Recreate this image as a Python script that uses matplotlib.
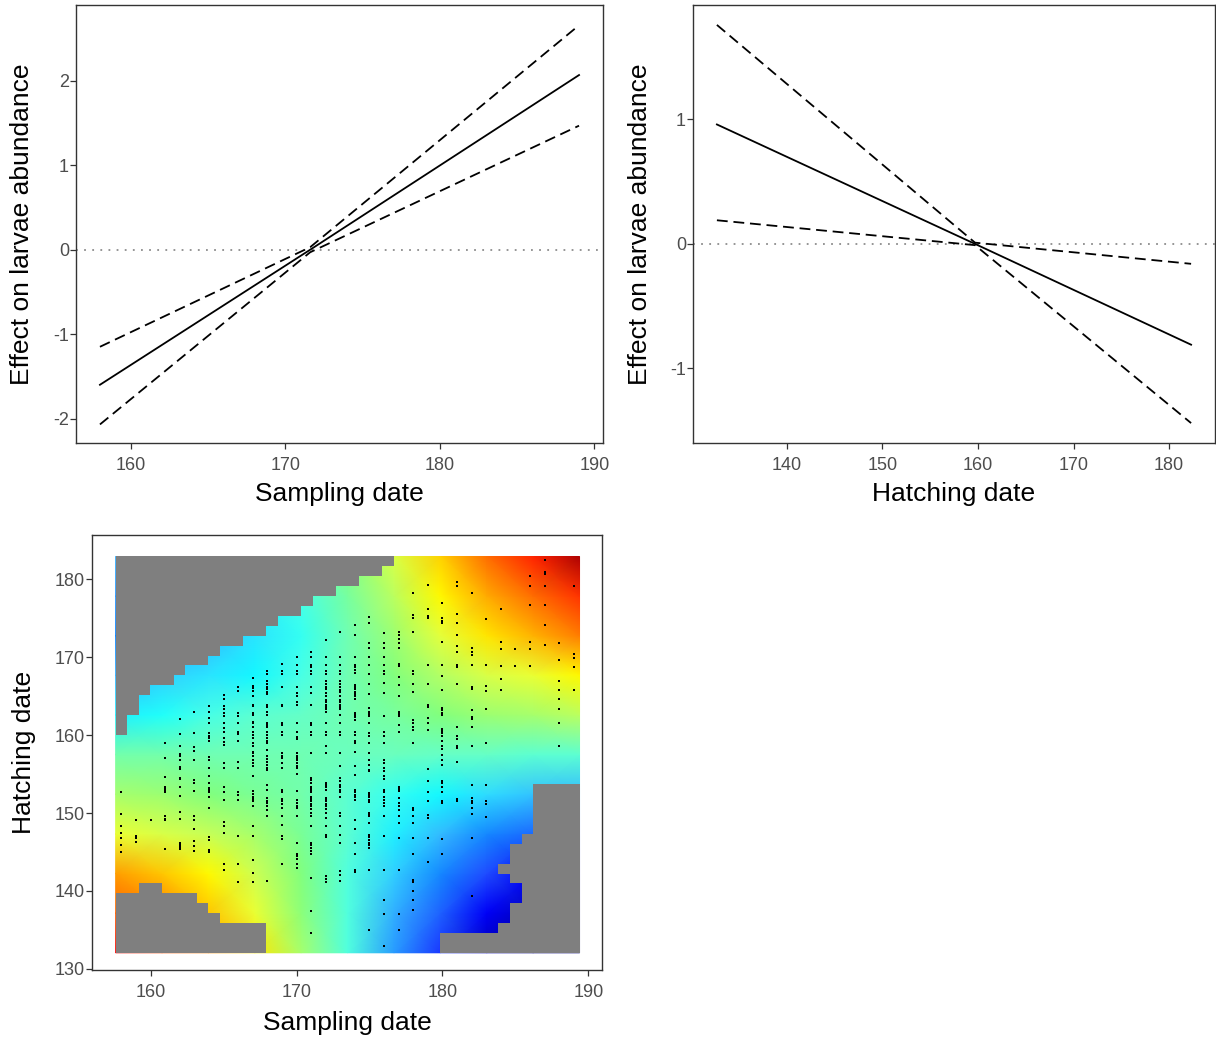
import numpy as np
import matplotlib
matplotlib.use("Agg")
import matplotlib.pyplot as plt
from matplotlib.colors import ListedColormap, to_rgb

plt.rcParams['font.family'] = ['Liberation Sans', 'DejaVu Sans']
plt.rcParams['axes.unicode_minus'] = False

# ---- top-left: effect of sampling date
samp_x = [158, 171.6, 189]
samp_fit = [-1.60, 0.00, 2.07]
samp_upper = [-1.15, 0.03, 2.66]
samp_lower = [-2.07, -0.03, 1.47]

# ---- top-right: effect of hatching date
hatch_x = [132.7, 159.7, 182.3]
hatch_fit = [0.96, 0.00, -0.81]
hatch_upper = [1.76, 0.01, -0.16]
hatch_lower = [0.19, -0.01, -1.44]

# ---- bottom: surface (colour scale position 0..1), rows bottom -> top, cols left -> right
surf_x = [157.6, 160.78, 163.96, 167.14, 170.32, 173.5, 176.68, 179.86, 183.04, 186.22, 189.4]
surf_y = [132.06, 137.15, 142.24, 147.32, 152.41, 157.5, 162.59, 167.68, 172.76, 177.85, 182.94]
surf_z = [
    [0.88, 0.82, 0.74, 0.65, 0.53, 0.41, 0.28, 0.16, 0.06, 0.00, 0.00],
    [0.80, 0.75, 0.68, 0.60, 0.51, 0.41, 0.30, 0.21, 0.12, 0.06, 0.03],
    [0.72, 0.68, 0.63, 0.57, 0.50, 0.41, 0.33, 0.26, 0.18, 0.12, 0.08],
    [0.60, 0.58, 0.56, 0.53, 0.48, 0.42, 0.36, 0.31, 0.26, 0.22, 0.20],
    [0.53, 0.52, 0.50, 0.48, 0.46, 0.42, 0.39, 0.37, 0.34, 0.32, 0.31],
    [0.46, 0.46, 0.45, 0.45, 0.45, 0.44, 0.44, 0.43, 0.43, 0.42, 0.42],
    [0.36, 0.38, 0.40, 0.42, 0.43, 0.45, 0.47, 0.50, 0.52, 0.53, 0.55],
    [0.30, 0.33, 0.35, 0.37, 0.40, 0.45, 0.50, 0.54, 0.58, 0.60, 0.63],
    [0.25, 0.28, 0.31, 0.35, 0.39, 0.45, 0.52, 0.59, 0.65, 0.70, 0.75],
    [0.27, 0.30, 0.33, 0.36, 0.40, 0.47, 0.55, 0.63, 0.71, 0.78, 0.85],
    [0.30, 0.33, 0.36, 0.40, 0.44, 0.50, 0.58, 0.67, 0.78, 0.86, 0.95],
]
palette = ['#00007F', '#0000FF', '#007FFF', '#00FFFF', '#7FFF7F',
           '#FFFF00', '#FF7F00', '#FF0000', '#7F0000']

# grey (too far from data) cells on the 40 x 40 grid
top_grey = [18, 16, 14, 13, 13, 12, 11, 11, 10, 9, 9, 8, 8, 7, 6, 6, 5, 4, 4, 3, 3, 2, 2, 1] + [0] * 16
bottom_grey = [6, 6, 7, 7, 6, 6, 6, 5, 4, 3, 3, 3, 3] + [0] * 27
right_grey_start = [28, 28, 33, 34, 34, 35, 35, 34, 33, 34, 34, 35, 36, 36, 36, 36, 36] + [40] * 23

# observed larvae: hatching dates per sampling day
obs = {
    158: [152.65, 149.9, 148.3, 147.5, 146.8, 145.9, 145.0],
    159: [149.06, 147.1, 146.8, 146.3],
    160: [149.06],
    161: [159.0, 157.05, 154.6, 153.4, 153.2, 152.9, 152.65, 149.6, 149.3, 149.06, 145.4],
    162: [162.1, 160.2, 158.55, 157.6, 157.35, 156.8, 155.9, 155.7, 154.5, 154.4, 153.4, 152.2,
          150.1, 149.2, 146.2, 145.9, 145.6, 145.4],
    163: [163.0, 160.25, 158.5, 158.0, 156.75, 154.2, 153.85, 152.8, 149.6, 149.15, 147.9, 146.4,
          145.75, 145.1],
    164: [163.7, 163.0, 162.2, 161.55, 160.25, 159.9, 159.6, 159.3, 157.2, 156.8, 155.8, 154.8,
          153.85, 153.2, 152.9, 152.65, 152.05, 150.6, 146.9, 146.6, 145.3, 145.0],
    165: [165.2, 164.6, 163.7, 163.35, 162.8, 162.4, 161.55, 160.9, 160.35, 159.6, 159.1, 158.8,
          156.4, 155.8, 153.4, 152.65, 151.7, 148.9, 148.4, 147.4, 143.4, 142.7],
    166: [166.2, 165.7, 162.9, 162.5, 161.55, 160.35, 160.1, 159.3, 156.5, 155.8, 152.65, 152.3,
          151.7, 147.1, 143.4, 141.1],
    167: [167.3, 166.3, 166.0, 165.7, 165.0, 163.9, 163.7, 162.8, 162.6, 161.75, 161.55, 161.1,
          160.35, 160.0, 159.6, 159.0, 158.55, 157.9, 157.7, 157.3, 156.8, 156.4, 156.0, 154.7,
          152.8, 152.4, 152.05, 151.8, 151.5, 150.85, 148.4, 147.1, 144.0, 142.3, 141.1],
    168: [168.2, 167.9, 166.9, 166.6, 166.2, 165.9, 165.6, 165.3, 163.9, 163.6, 163.0, 162.6,
          161.6, 161.3, 161.1, 160.35, 160.0, 159.6, 159.3, 159.0, 158.1, 157.3, 156.9, 156.6,
          156.2, 155.8, 155.5, 153.6, 153.0, 151.9, 151.6, 151.3, 150.85, 150.4, 149.6, 141.3],
    169: [169.2, 168.2, 167.9, 166.2, 163.9, 163.7, 161.55, 161.3, 160.35, 160.0, 157.7, 157.35,
          157.05, 156.4, 155.8, 153.0, 152.65, 151.8, 151.5, 151.1, 150.65, 149.6, 148.5, 147.0,
          146.7, 143.5],
    170: [170.1, 169.0, 168.2, 167.9, 166.2, 165.4, 165.0, 164.3, 163.9, 161.55, 160.35, 159.8,
          159.5, 157.7, 157.35, 157.05, 156.75, 156.4, 156.1, 155.8, 155.0, 152.8, 151.7, 151.3,
          150.9, 150.65, 149.6, 146.1, 144.8, 144.5, 144.1, 143.4, 143.0],
    171: [170.7, 170.1, 169.0, 168.7, 168.2, 167.9, 166.2, 165.4, 163.9, 161.55, 161.3, 160.35,
          160.0, 157.7, 154.5, 154.3, 153.85, 153.4, 153.2, 153.0, 152.65, 152.1, 151.8, 151.5,
          151.2, 150.85, 150.5, 150.0, 149.6, 148.4, 146.2, 145.9, 145.5, 145.1, 144.8, 141.7,
          137.4, 134.6],
    172: [172.2, 170.1, 169.0, 168.2, 167.9, 166.9, 166.6, 166.2, 165.9, 165.4, 165.0, 164.5,
          164.2, 163.9, 163.6, 163.3, 163.0, 161.55, 160.35, 160.0, 158.55, 157.7, 153.85, 153.6,
          153.3, 153.0, 151.9, 151.7, 151.5, 151.2, 150.85, 150.5, 150.0, 149.4, 148.3, 147.2,
          146.9, 141.9, 141.5, 141.1],
    173: [173.3, 170.1, 169.0, 168.2, 167.9, 166.9, 166.6, 166.2, 165.8, 165.5, 165.0, 164.5,
          164.2, 163.9, 163.6, 163.3, 162.6, 161.55, 160.35, 160.0, 157.7, 156.0, 154.5, 154.1,
          153.6, 153.3, 153.0, 152.65, 152.1, 150.0, 149.6, 148.3, 147.2, 146.2, 142.5, 142.1,
          141.3],
    174: [174.15, 172.9, 170.1, 169.0, 168.7, 168.4, 168.0, 166.5, 166.2, 165.9, 165.6, 165.3,
          165.0, 164.6, 162.9, 162.6, 162.3, 162.0, 160.35, 160.0, 159.2, 159.0, 157.8, 156.0,
          154.9, 153.0, 152.65, 152.35, 152.05, 151.7, 149.15, 147.9, 146.2, 144.7, 142.7, 142.4],
    175: [175.2, 174.4, 171.8, 171.2, 170.1, 169.0, 167.9, 166.6, 165.3, 163.5, 163.0, 162.7,
          162.4, 161.55, 160.25, 159.9, 159.0, 157.7, 156.8, 156.2, 155.55, 155.35, 152.6, 152.35,
          152.05, 151.7, 151.4, 150.0, 149.8, 149.6, 148.7, 147.2, 146.9, 146.6, 146.2, 145.9,
          145.5, 142.7, 135.0],
    176: [173.1, 171.8, 171.2, 170.1, 169.0, 168.2, 167.9, 166.7, 165.4, 162.4, 160.35, 159.9,
          159.0, 156.75, 156.4, 155.8, 155.35, 154.7, 154.4, 153.0, 152.65, 152.1, 151.7, 151.3,
          150.85, 149.6, 147.1, 142.7, 138.9, 137.0, 132.9],
    177: [173.3, 172.9, 172.4, 171.8, 171.2, 169.2, 168.9, 167.5, 166.5, 165.0, 163.0, 162.7,
          162.4, 161.3, 160.35, 153.4, 153.1, 152.8, 151.9, 151.3, 150.85, 150.4, 149.6, 148.7,
          146.8, 142.7, 137.0, 135.0],
    178: [178.2, 175.4, 175.0, 173.3, 168.2, 167.9, 166.6, 165.6, 162.0, 161.55, 161.1, 160.7,
          159.0, 150.65, 150.4, 149.6, 148.7, 146.8, 144.8, 141.45, 141.1, 140.0, 138.9, 137.6],
    179: [179.3, 176.2, 175.3, 175.0, 169.0, 166.6, 163.9, 163.6, 162.2, 161.6, 160.6, 155.65,
          154.1, 152.65, 151.5, 149.7, 149.4, 146.8, 143.7],
    180: [177.0, 175.0, 174.7, 174.4, 172.0, 169.0, 167.6, 165.8, 163.5, 163.25, 162.9, 162.6,
          160.8, 160.5, 160.25, 159.9, 159.2, 158.55, 158.2, 157.5, 156.75, 156.2, 154.1, 153.85,
          153.4, 152.65, 151.5, 151.3, 146.7, 144.8],
    181: [179.7, 179.1, 175.6, 174.4, 172.9, 171.4, 170.7, 169.0, 168.7, 166.6, 161.0, 159.9,
          159.5, 158.55, 158.3, 156.6, 151.8, 151.6],
    182: [178.3, 171.2, 170.7, 170.3, 169.0, 166.2, 165.9, 163.25, 162.3, 162.05, 161.1, 158.55,
          153.6, 151.9, 151.6, 151.3, 150.65, 149.9, 146.8, 139.4],
    183: [174.9, 169.0, 166.3, 165.7, 163.3, 159.0, 153.6, 151.5, 151.2, 149.5],
    184: [176.2, 172.0, 171.0, 168.9, 167.2, 165.8],
    185: [171.0, 168.9],
    186: [180.4, 179.15, 176.7, 172.0, 171.0, 168.9],
    187: [182.5, 181.0, 180.7, 179.2, 176.7, 174.1, 171.6],
    188: [171.8, 169.6, 167.0, 165.8, 164.65, 163.4, 161.5, 158.55],
    189: [179.15, 170.4, 169.9, 168.7, 165.8],
}

ink = '#333333'
tick_col = '#4D4D4D'


# colour ramp blended in CIE Lab (like ggplot's gradientn)
def srgb_to_lab(rgb):
    rgb = np.asarray(rgb, dtype=float)
    lin = np.where(rgb <= 0.04045, rgb / 12.92, ((rgb + 0.055) / 1.055) ** 2.4)
    M = np.array([[0.4124, 0.3576, 0.1805], [0.2126, 0.7152, 0.0722], [0.0193, 0.1192, 0.9505]])
    xyz = lin @ M.T / np.array([0.95047, 1.0, 1.08883])
    f = np.where(xyz > 0.008856, np.cbrt(xyz), 7.787 * xyz + 16 / 116)
    return np.stack([116 * f[..., 1] - 16, 500 * (f[..., 0] - f[..., 1]),
                     200 * (f[..., 1] - f[..., 2])], axis=-1)


def lab_to_srgb(lab):
    fy = (lab[..., 0] + 16) / 116
    fx = fy + lab[..., 1] / 500
    fz = fy - lab[..., 2] / 200
    f = np.stack([fx, fy, fz], axis=-1)
    xyz = np.where(f ** 3 > 0.008856, f ** 3, (f - 16 / 116) / 7.787)
    xyz = xyz * np.array([0.95047, 1.0, 1.08883])
    Minv = np.array([[3.2406, -1.5372, -0.4986], [-0.9689, 1.8758, 0.0415], [0.0557, -0.2040, 1.0570]])
    lin = np.clip(xyz @ Minv.T, 0, 1)
    return np.clip(np.where(lin <= 0.0031308, 12.92 * lin, 1.055 * lin ** (1 / 2.4) - 0.055), 0, 1)


stops = srgb_to_lab([to_rgb(c) for c in palette])
pos = np.linspace(0, 1, len(palette))
tt = np.linspace(0, 1, 256)
lab = np.stack([np.interp(tt, pos, stops[:, k]) for k in range(3)], axis=-1)
cmap = ListedColormap(lab_to_srgb(lab))


def style(ax):
    for s in ax.spines.values():
        s.set_color(ink)
        s.set_linewidth(1.0)
    ax.tick_params(length=4, width=0.9, color=ink, labelcolor=tick_col, labelsize=13)
    ax.tick_params(axis='x', pad=6)
    ax.tick_params(axis='y', pad=1)
    ax.xaxis.label.set_size(19)
    ax.yaxis.label.set_size(19)
    ax.xaxis.label.set_verticalalignment('center')
    ax.yaxis.label.set_verticalalignment('center')


W, H = 1216, 1042
fig = plt.figure(figsize=(W / 100, H / 100), dpi=100)


def px_axes(l, t, r, b):
    return fig.add_axes([l / W, 1 - b / H, (r - l) / W, (b - t) / H])


lw = 1.3
dash = (6, 3.2)

# panel 1
ax1 = px_axes(76, 5, 603, 443)
ax1.axhline(0, color='#8C8C8C', lw=1.3, dashes=(1, 3.5))
ax1.plot(samp_x, samp_fit, color='black', lw=lw)
ax1.plot(samp_x, samp_upper, color='black', lw=lw, dashes=dash)
ax1.plot(samp_x, samp_lower, color='black', lw=lw, dashes=dash)
ax1.set_xlim(156.45, 190.55)
ax1.set_ylim(-2.29, 2.90)
ax1.set_xticks([160, 170, 180, 190])
ax1.set_yticks([-2, -1, 0, 1, 2])
ax1.set_xlabel('Sampling date')
ax1.set_ylabel('Effect on larvae abundance')
style(ax1)
ax1.xaxis.set_label_coords(0.5, (443 - 494) / 438)
ax1.yaxis.set_label_coords((22 - 76) / 527, 0.5)

# panel 2
ax2 = px_axes(693, 5, 1215, 443)
ax2.axhline(0, color='#8C8C8C', lw=1.3, dashes=(1, 3.5))
ax2.plot(hatch_x, hatch_fit, color='black', lw=lw)
ax2.plot(hatch_x, hatch_upper, color='black', lw=lw, dashes=dash)
ax2.plot(hatch_x, hatch_lower, color='black', lw=lw, dashes=dash)
ax2.set_xlim(130.2, 184.8)
ax2.set_ylim(-1.60, 1.92)
ax2.set_xticks([140, 150, 160, 170, 180])
ax2.set_yticks([-1, 0, 1])
ax2.set_xlabel('Hatching date')
ax2.set_ylabel('Effect on larvae abundance')
style(ax2)
ax2.xaxis.set_label_coords(0.5, (443 - 494) / 438)
ax2.yaxis.set_label_coords((640 - 693) / 522, 0.5)

# panel 3
ax3 = px_axes(92, 535, 602, 970)
SX, SY = np.meshgrid(surf_x, surf_y)
ax3.pcolormesh(SX, SY, np.array(surf_z), cmap=cmap, vmin=0, vmax=1,
               shading='gouraud', zorder=1)

n = 40
xe = np.linspace(surf_x[0], surf_x[-1], n + 1)
ye = np.linspace(surf_y[0], surf_y[-1], n + 1)
grey = np.zeros((n, n), dtype=bool)
for c in range(n):
    grey[n - top_grey[c]:, c] = True
    grey[:bottom_grey[c], c] = True
for r in range(n):
    grey[r, right_grey_start[r]:] = True
mask_val = np.ma.masked_where(~grey, np.ones((n, n)))
ax3.pcolormesh(xe, ye, mask_val, cmap=ListedColormap(['#7F7F7F']),
               vmin=0, vmax=1, shading='flat', edgecolors='none', antialiased=False, zorder=2)

px_list = []
py_list = []
for day, hs in obs.items():
    px_list += [day] * len(hs)
    py_list += hs
ax3.scatter(px_list, py_list, s=3.2, c='black', marker='s', linewidths=0, zorder=3)

ax3.set_xlim(155.98, 190.94)
ax3.set_ylim(129.85, 185.7)
ax3.set_xticks([160, 170, 180, 190])
ax3.set_yticks([130, 140, 150, 160, 170, 180])
ax3.set_xlabel('Sampling date')
ax3.set_ylabel('Hatching date')
style(ax3)
ax3.xaxis.set_label_coords(0.5, (970 - 1023) / 435)
ax3.yaxis.set_label_coords((24 - 92) / 510, 0.5)

fig.savefig('out.png', dpi=100)
